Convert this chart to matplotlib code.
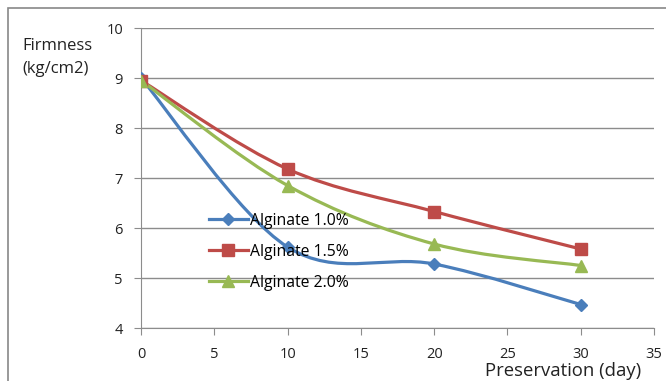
import numpy as np
import matplotlib.pyplot as plt
from matplotlib.path import Path
from matplotlib.patches import PathPatch, Rectangle
from matplotlib.lines import Line2D

plt.rcParams['font.family'] = ['Open Sans', 'DejaVu Sans']

days = [0, 10, 20, 30]
alg10 = [9.0, 5.62, 5.28, 4.47]
alg15 = [8.95, 7.18, 6.33, 5.58]
alg20 = [8.95, 6.85, 5.68, 5.25]
labels = ['Alginate 1.0%', 'Alginate 1.5%', 'Alginate 2.0%']
colors = ['#4A7EBB', '#BE4B48', '#98B954']
markers = ['D', 's', '^']
msizes = [6, 8, 9]


def smooth_path(x, y):
    # Excel-like smoothed line: cubic Bezier through each point
    x = np.asarray(x, float)
    y = np.asarray(y, float)
    n = len(x)
    verts = [(x[0], y[0])]
    codes = [Path.MOVETO]
    for i in range(n - 1):
        p0 = (x[max(i - 1, 0)], y[max(i - 1, 0)])
        p1 = (x[i], y[i])
        p2 = (x[i + 1], y[i + 1])
        p3 = (x[min(i + 2, n - 1)], y[min(i + 2, n - 1)])
        c1 = (p1[0] + (p2[0] - p0[0]) / 6, p1[1] + (p2[1] - p0[1]) / 6)
        c2 = (p2[0] - (p3[0] - p1[0]) / 6, p2[1] - (p3[1] - p1[1]) / 6)
        verts += [c1, c2, p2]
        codes += [Path.CURVE4] * 3
    return Path(verts, codes)


fig = plt.figure(figsize=(6.66, 3.81), dpi=100)
fig.patches.append(Rectangle((8 / 666, -0.05), 1.1, 1 - 8 / 381 + 0.05,
                             transform=fig.transFigure, fill=False,
                             edgecolor='#888888', linewidth=1.2))
ax = fig.add_axes([141 / 666, 1 - 328 / 381, 513 / 666, 300 / 381])

handles = []
for ys, lab, c, m, ms in zip([alg10, alg15, alg20], labels, colors, markers, msizes):
    ax.add_patch(PathPatch(smooth_path(days, ys), fill=False, edgecolor=c,
                           linewidth=2.3, zorder=3))
    ax.plot(days, ys, linestyle='none', marker=m, markersize=ms, color=c, zorder=4)
    handles.append(Line2D([], [], color=c, linewidth=2.3, marker=m, markersize=ms))

ax.set_xlim(0, 35)
ax.set_ylim(4, 10)
ax.set_xticks(range(0, 36, 5))
ax.set_yticks(range(4, 11))
ax.grid(axis='y', color='#8c8c8c', linewidth=1)
ax.set_axisbelow(True)
for s in ['top', 'right']:
    ax.spines[s].set_visible(False)
for s in ['left', 'bottom']:
    ax.spines[s].set_color('#8c8c8c')
ax.tick_params(axis='x', direction='out', length=5, color='#8c8c8c',
               labelsize=10.5, pad=9, labelcolor='#222222')
ax.tick_params(axis='y', direction='out', length=5, color='#8c8c8c',
               labelsize=10.5, pad=8, labelcolor='#222222')

fig.text(22 / 666, 1 - 46 / 381, 'Firmness', fontsize=12, va='center', color='#222222')
fig.text(22 / 666, 1 - 69 / 381, '(kg/cm2)', fontsize=12, va='center', color='#222222')
fig.text(641 / 666, 1 - 371 / 381, 'Preservation (day)', fontsize=13.3,
         ha='right', va='center', color='#222222')

ax.legend(handles, labels, loc='upper left', bbox_to_anchor=(0.12, 0.405),
          frameon=False, fontsize=11.3, handlelength=2.5, handletextpad=0.1,
          labelspacing=0.95, borderaxespad=0)

fig.savefig('out.png', dpi=100)
